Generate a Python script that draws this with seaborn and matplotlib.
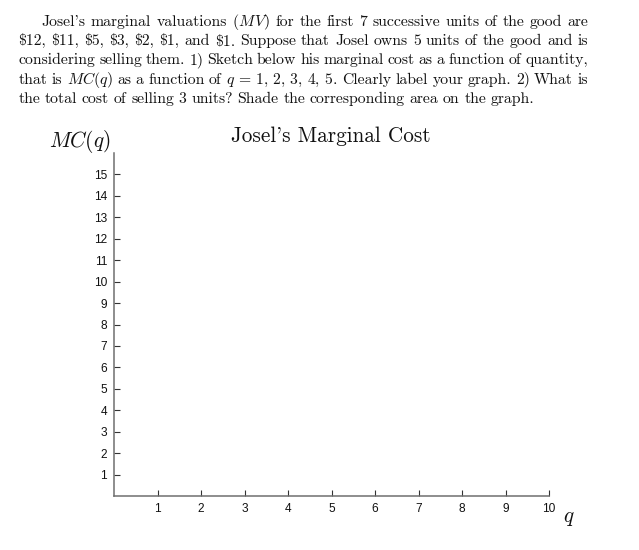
import matplotlib
matplotlib.use("Agg")
import matplotlib.pyplot as plt
import seaborn as sns

# 軸の目盛り
x_ticks = [1, 2, 3, 4, 5, 6, 7, 8, 9, 10]
y_ticks = [1, 2, 3, 4, 5, 6, 7, 8, 9, 10, 11, 12, 13, 14, 15]
x_max = 10
y_max = 16

# 問題文（1行ずつ）
lines = [
    r"Josel's marginal valuations ($M\hspace{0.08}V$) for the first 7 successive units of the good are",
    "$12, $11, $5, $3, $2, $1, and $1. Suppose that Josel owns 5 units of the good and is",
    "considering selling them. 1) Sketch below his marginal cost as a function of quantity,",
    r"that is $MC(q)$ as a function of $q\,=\,1,\,2,\,3,\,4,\,5$. Clearly label your graph. 2) What is",
    "the total cost of selling 3 units? Shade the corresponding area on the graph.",
]
title = "Josel's Marginal Cost"
ylabel = r"$MC(q)$"
xlabel = r"$q$"

sns.set_theme(style="ticks")
plt.rcParams["font.family"] = ["Liberation Sans", "DejaVu Sans"]
plt.rcParams["mathtext.fontset"] = "cm"

W, H = 639, 550
fig = plt.figure(figsize=(W / 100, H / 100), dpi=100, facecolor="white")


def px(x, y):
    return x / W, 1 - y / H


# 軸
ax = fig.add_axes([114 / W, 1 - 496 / H, (549 - 114) / W, (496 - 153) / H])
ax.set_facecolor("white")
ax.set_xlim(0, x_max)
ax.set_ylim(0, y_max)
ax.set_xticks(x_ticks)
ax.set_yticks(y_ticks)
ax.tick_params(direction="in", length=4, width=0.8, color="#333333",
               labelsize=8.6, labelcolor="#111111", pad=5)
sns.despine(ax=ax)
for s in ["left", "bottom"]:
    ax.spines[s].set_color("#6f6f6f")
    ax.spines[s].set_linewidth(1.1)

# 問題文（両端揃え）
renderer = fig.canvas.get_renderer()
left, right = 18.3, 588
baselines = [25.7, 45.0, 64.3, 83.6, 102.9]
fs = 11.3
space = 0.30 * fs * 100 / 72

for i, line in enumerate(lines):
    words = line.split(" ")
    x0 = 41.7 if i == 0 else left
    objs = [fig.text(0, 0, w, family="cmr10", fontsize=fs, va="baseline", ha="left",
                     color="#111111")
            for w in words]
    widths = [o.get_window_extent(renderer).width for o in objs]
    if i < len(lines) - 1:
        gap = (right - x0 - sum(widths)) / (len(words) - 1)
    else:
        gap = space
    x = x0
    for o, w in zip(objs, widths):
        o.set_position(px(x, baselines[i]))
        x += w + gap

# タイトルと軸ラベル
fig.text(*px(331, 141.7), title, family="cmr10", fontsize=15.3, ha="center", va="baseline",
         color="#111111")
fig.text(*px(80, 141.7), ylabel, fontsize=15.3, ha="center", va="center", color="#111111")
fig.text(*px(569, 519), xlabel, fontsize=15.3, ha="center", va="center", color="#111111")

fig.savefig("out.png", dpi=100, facecolor="white")
